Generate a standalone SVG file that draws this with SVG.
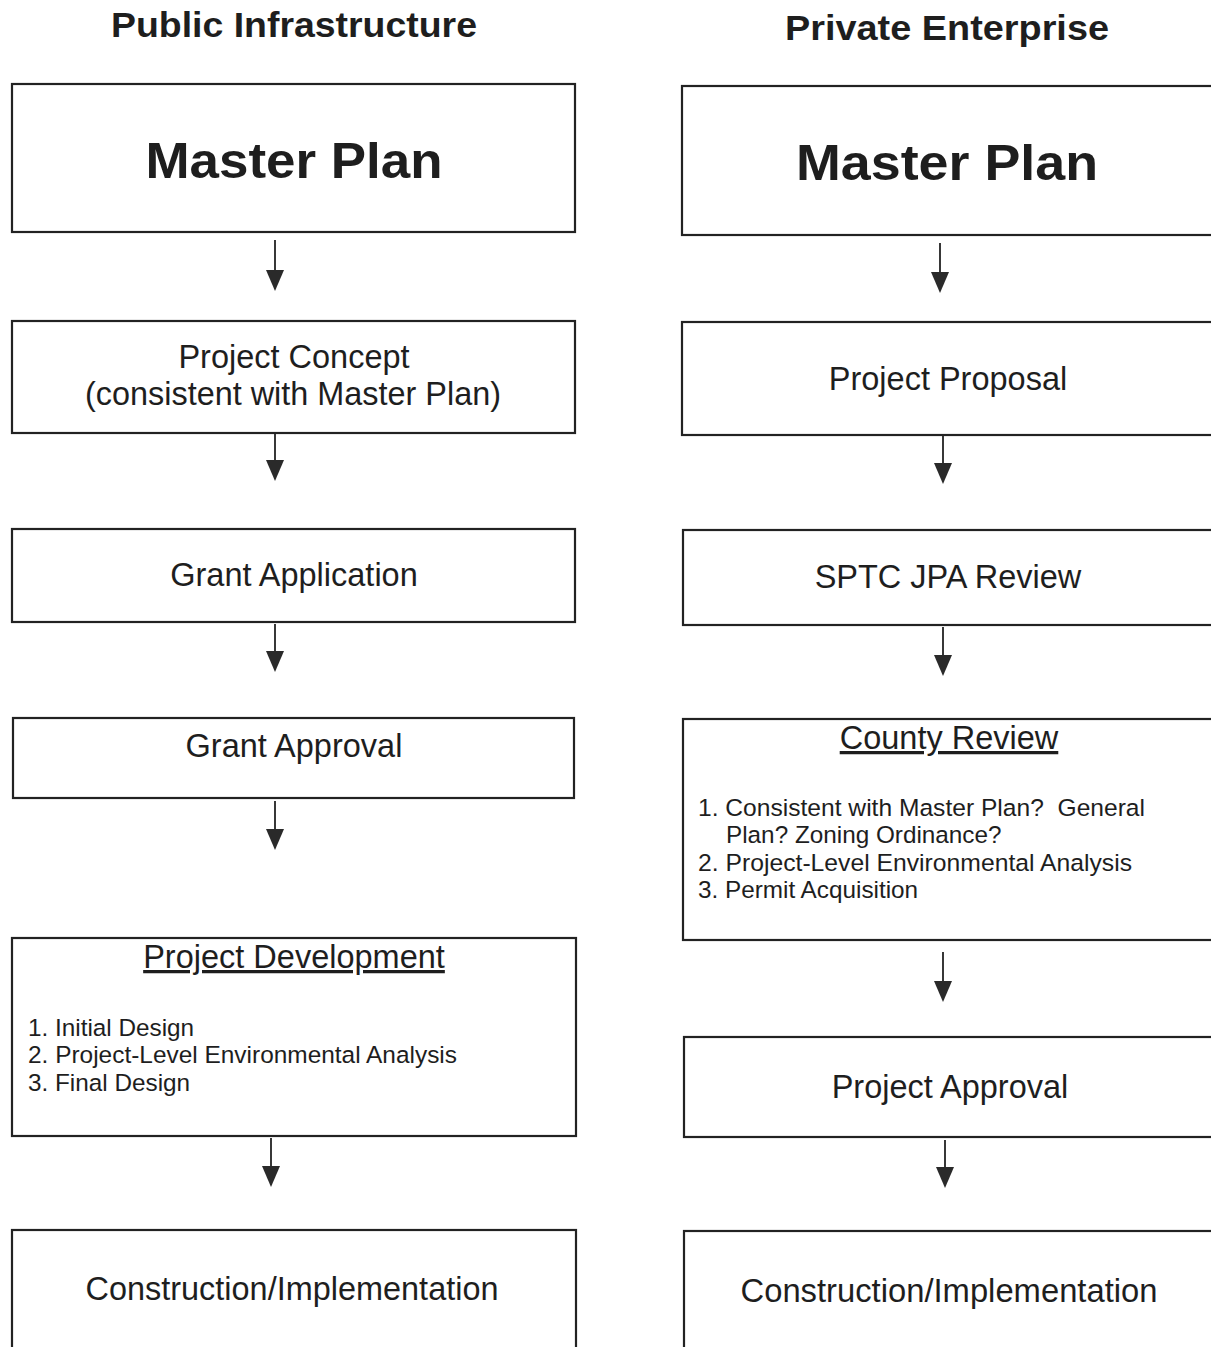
<svg xmlns="http://www.w3.org/2000/svg" width="1211" height="1347" viewBox="0 0 1211 1347">
<style>
  .box { fill: #fff; stroke: #222; stroke-width: 2.2; }
  .t { font-family: "Liberation Sans", Arial, sans-serif; fill: #1e1e1e; }
  .head { font-size: 35px; font-weight: bold; text-anchor: middle; }
  .mp { font-size: 50px; font-weight: bold; text-anchor: middle; }
  .lbl { font-size: 32.5px; text-anchor: middle; }
  .item { font-size: 24.3px; }
  .conn line { stroke: #222; stroke-width: 1.8; }
</style>
<defs>
  <path id="tri" d="M -9 0 L 9 0 L 0 21 Z" fill="#2a2a2a"/>
</defs>
<rect width="1211" height="1347" fill="#fff"/>

<text class="t head" x="294" y="37" textLength="366" lengthAdjust="spacingAndGlyphs">Public Infrastructure</text>
<text class="t head" x="947" y="40" textLength="324" lengthAdjust="spacingAndGlyphs">Private Enterprise</text>

<g id="pub-master">
  <rect class="box" x="12" y="84" width="563" height="148"/>
  <text class="t mp" x="294" y="178" textLength="297" lengthAdjust="spacingAndGlyphs">Master Plan</text>
</g>
<g id="pub-concept">
  <rect class="box" x="12" y="321" width="563" height="112"/>
  <text class="t lbl" x="294" y="368">Project Concept</text>
  <text class="t lbl" x="293" y="405" textLength="416" lengthAdjust="spacingAndGlyphs">(consistent with Master Plan)</text>
</g>
<g id="pub-grantapp">
  <rect class="box" x="12" y="529" width="563" height="93"/>
  <text class="t lbl" x="294" y="586">Grant Application</text>
</g>
<g id="pub-grantappr">
  <rect class="box" x="13" y="718" width="561" height="80"/>
  <text class="t lbl" x="294" y="757">Grant Approval</text>
</g>
<g id="pub-dev">
  <rect class="box" x="12" y="938" width="564" height="198"/>
  <text class="t lbl" x="294" y="968" text-decoration="underline">Project Development</text>
  <text class="t item" x="28" y="1036">1. Initial Design</text>
  <text class="t item" x="28" y="1063" textLength="429" lengthAdjust="spacingAndGlyphs">2. Project-Level Environmental Analysis</text>
  <text class="t item" x="28" y="1091">3. Final Design</text>
</g>
<g id="pub-constr">
  <rect class="box" x="12" y="1230" width="564" height="130"/>
  <text class="t lbl" x="292" y="1300" textLength="413" lengthAdjust="spacingAndGlyphs">Construction/Implementation</text>
</g>

<g id="prv-master">
  <rect class="box" x="682" y="86" width="540" height="149"/>
  <text class="t mp" x="947" y="180" textLength="302" lengthAdjust="spacingAndGlyphs">Master Plan</text>
</g>
<g id="prv-proposal">
  <rect class="box" x="682" y="322" width="540" height="113"/>
  <text class="t lbl" x="948" y="390">Project Proposal</text>
</g>
<g id="prv-sptc">
  <rect class="box" x="683" y="530" width="540" height="95"/>
  <text class="t lbl" x="948" y="588">SPTC JPA Review</text>
</g>
<g id="prv-county">
  <rect class="box" x="683" y="719" width="540" height="221"/>
  <text class="t lbl" x="949" y="749" text-decoration="underline">County Review</text>
  <text class="t item" x="698" y="816" textLength="447" lengthAdjust="spacingAndGlyphs" style="white-space:pre">1. Consistent with Master Plan?  General</text>
  <text class="t item" x="726" y="843">Plan? Zoning Ordinance?</text>
  <text class="t item" x="698" y="871" textLength="434" lengthAdjust="spacingAndGlyphs">2. Project-Level Environmental Analysis</text>
  <text class="t item" x="698" y="898">3. Permit Acquisition</text>
</g>
<g id="prv-approval">
  <rect class="box" x="684" y="1037" width="540" height="100"/>
  <text class="t lbl" x="950" y="1098">Project Approval</text>
</g>
<g id="prv-constr">
  <rect class="box" x="684" y="1231" width="540" height="130"/>
  <text class="t lbl" x="949" y="1302" textLength="417" lengthAdjust="spacingAndGlyphs">Construction/Implementation</text>
</g>

<g id="connectors" class="conn">
  <line x1="275" y1="240" x2="275" y2="272"/><use href="#tri" x="275" y="270"/>
  <line x1="275" y1="433" x2="275" y2="462"/><use href="#tri" x="275" y="460"/>
  <line x1="275" y1="624" x2="275" y2="653"/><use href="#tri" x="275" y="651"/>
  <line x1="275" y1="801" x2="275" y2="831"/><use href="#tri" x="275" y="829"/>
  <line x1="271" y1="1138" x2="271" y2="1168"/><use href="#tri" x="271" y="1166"/>

  <line x1="940" y1="243" x2="940" y2="274"/><use href="#tri" x="940" y="272"/>
  <line x1="943" y1="436" x2="943" y2="465"/><use href="#tri" x="943" y="463"/>
  <line x1="943" y1="627" x2="943" y2="657"/><use href="#tri" x="943" y="655"/>
  <line x1="943" y1="952" x2="943" y2="983"/><use href="#tri" x="943" y="981"/>
  <line x1="945" y1="1140" x2="945" y2="1169"/><use href="#tri" x="945" y="1167"/>
</g>
</svg>
